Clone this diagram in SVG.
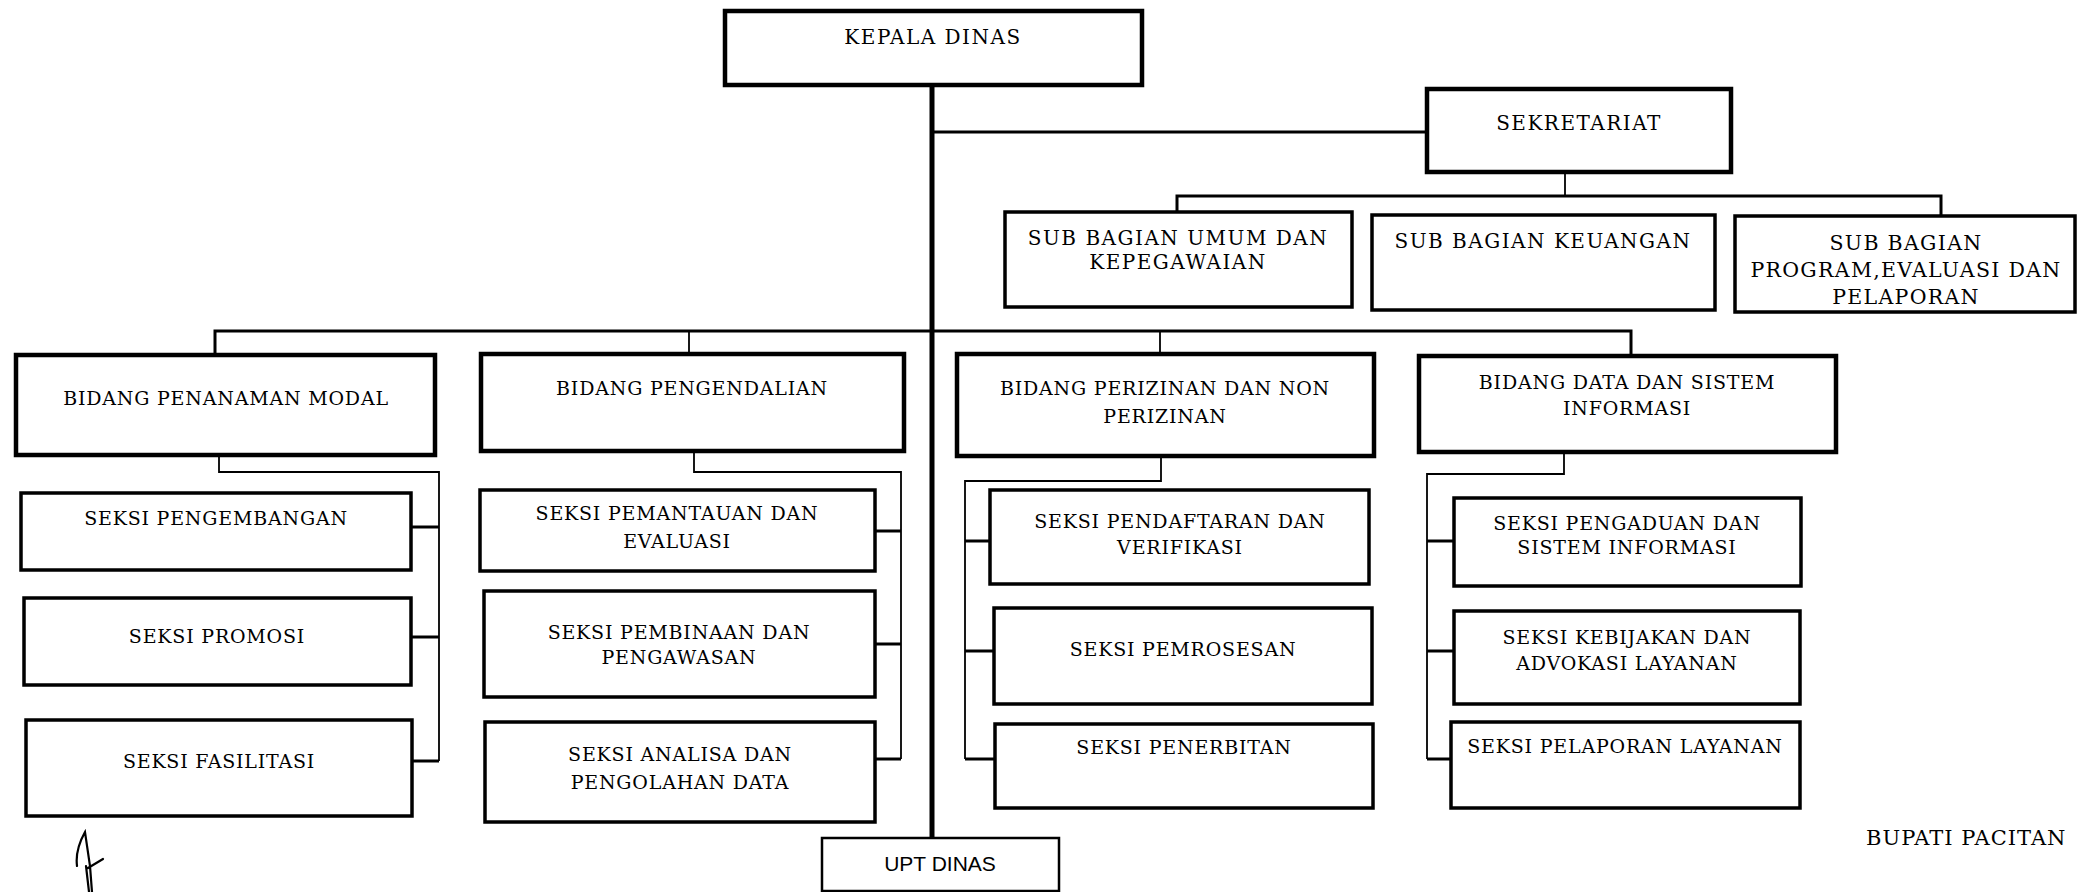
<svg xmlns="http://www.w3.org/2000/svg" width="2078" height="892" viewBox="0 0 2078 892">
<style>
  .t { font-family: "DejaVu Serif", "Liberation Serif", serif; font-size: 19px; letter-spacing: 0.8px; fill: #000; text-anchor: middle; }
  .t2 { font-family: "DejaVu Serif", "Liberation Serif", serif; font-size: 20px; letter-spacing: 1.5px; fill: #000; text-anchor: middle; }
  .t3 { font-family: "DejaVu Serif", "Liberation Serif", serif; font-size: 20.5px; letter-spacing: 1.3px; fill: #000; text-anchor: middle; }
  .s { font-family: "Liberation Sans", Arial, sans-serif; font-size: 21px; fill: #000; text-anchor: middle; }
  .b4 { fill: #fff; stroke: #000; stroke-width: 4.5; }
  .b3 { fill: #fff; stroke: #000; stroke-width: 3.5; }
  .b2 { fill: #fff; stroke: #000; stroke-width: 2.5; }
  .thick { stroke: #000; stroke-width: 5; fill: none; }
  .med { stroke: #000; stroke-width: 3; fill: none; }
  .thin { stroke: #000; stroke-width: 1.8; fill: none; }
</style>
<rect width="2078" height="892" fill="#fff"/>
<g id="connectors">
  <line class="thick" x1="932" y1="85" x2="932" y2="838"/>
  <line class="med" x1="932" y1="132" x2="1427" y2="132"/>
  <line class="thin" x1="1565" y1="172" x2="1565" y2="196"/>
  <polyline class="med" points="1177,214 1177,196 1941,196 1941,216"/>
  <polyline class="med" points="215,355 215,331 1631,331 1631,356"/>
  <line class="thin" x1="689" y1="331" x2="689" y2="354"/>
  <line class="thin" x1="1160" y1="331" x2="1160" y2="354"/>
  <polyline class="thin" points="219,455 219,472 439,472 439,761"/>
  <line class="med" x1="411" y1="527" x2="439" y2="527"/>
  <line class="med" x1="411" y1="637" x2="439" y2="637"/>
  <line class="med" x1="412" y1="761" x2="439" y2="761"/>
  <polyline class="thin" points="694,451 694,472 901,472 901,759"/>
  <line class="med" x1="875" y1="531" x2="901" y2="531"/>
  <line class="med" x1="875" y1="644" x2="901" y2="644"/>
  <line class="med" x1="875" y1="759" x2="901" y2="759"/>
  <polyline class="thin" points="1161,456 1161,481 965,481 965,759"/>
  <line class="med" x1="965" y1="541" x2="990" y2="541"/>
  <line class="med" x1="965" y1="651" x2="994" y2="651"/>
  <line class="med" x1="965" y1="759" x2="995" y2="759"/>
  <polyline class="thin" points="1564,452 1564,474 1427,474 1427,759"/>
  <line class="med" x1="1427" y1="541" x2="1454" y2="541"/>
  <line class="med" x1="1427" y1="651" x2="1454" y2="651"/>
  <line class="med" x1="1427" y1="759" x2="1451" y2="759"/>
</g>
<g id="kepala-dinas"><rect class="b4" x="725" y="11" width="417" height="74"/><text class="t2" x="933" y="44">KEPALA DINAS</text></g>
<g id="sekretariat"><rect class="b4" x="1427" y="89" width="304" height="83"/><text class="t2" x="1579" y="130">SEKRETARIAT</text></g>
<g id="sub-umum"><rect class="b3" x="1005" y="212" width="347" height="95"/><text class="t2" x="1178" y="245">SUB BAGIAN UMUM DAN</text><text class="t2" x="1178" y="269">KEPEGAWAIAN</text></g>
<g id="sub-keuangan"><rect class="b3" x="1372" y="215" width="343" height="95"/><text class="t2" x="1543" y="248">SUB BAGIAN KEUANGAN</text></g>
<g id="sub-program"><rect class="b3" x="1735" y="216" width="340" height="96"/><text class="t3" x="1906" y="250">SUB BAGIAN</text><text class="t3" x="1906" y="277">PROGRAM,EVALUASI DAN</text><text class="t3" x="1906" y="304">PELAPORAN</text></g>
<g id="bidang-penanaman"><rect class="b4" x="16" y="355" width="419" height="100"/><text class="t" x="226" y="405">BIDANG PENANAMAN MODAL</text></g>
<g id="bidang-pengendalian"><rect class="b4" x="481" y="354" width="423" height="97"/><text class="t" x="692" y="395">BIDANG PENGENDALIAN</text></g>
<g id="bidang-perizinan"><rect class="b4" x="957" y="354" width="417" height="102"/><text class="t" x="1165" y="395">BIDANG PERIZINAN DAN NON</text><text class="t" x="1165" y="423">PERIZINAN</text></g>
<g id="bidang-data"><rect class="b4" x="1419" y="356" width="417" height="96"/><text class="t" x="1627" y="389">BIDANG DATA DAN SISTEM</text><text class="t" x="1627" y="415">INFORMASI</text></g>
<g id="seksi-pengembangan"><rect class="b3" x="21" y="493" width="390" height="77"/><text class="t" x="216" y="525">SEKSI PENGEMBANGAN</text></g>
<g id="seksi-promosi"><rect class="b3" x="24" y="598" width="387" height="87"/><text class="t" x="217" y="643">SEKSI PROMOSI</text></g>
<g id="seksi-fasilitasi"><rect class="b3" x="26" y="720" width="386" height="96"/><text class="t" x="219" y="768">SEKSI FASILITASI</text></g>
<g id="seksi-pemantauan"><rect class="b3" x="480" y="490" width="395" height="81"/><text class="t" x="677" y="520">SEKSI PEMANTAUAN DAN</text><text class="t" x="677" y="548">EVALUASI</text></g>
<g id="seksi-pembinaan"><rect class="b3" x="484" y="591" width="391" height="106"/><text class="t" x="679" y="639">SEKSI PEMBINAAN DAN</text><text class="t" x="679" y="664">PENGAWASAN</text></g>
<g id="seksi-analisa"><rect class="b3" x="485" y="722" width="390" height="100"/><text class="t" x="680" y="761">SEKSI ANALISA DAN</text><text class="t" x="680" y="789">PENGOLAHAN DATA</text></g>
<g id="seksi-pendaftaran"><rect class="b3" x="990" y="490" width="379" height="94"/><text class="t" x="1180" y="528">SEKSI PENDAFTARAN DAN</text><text class="t" x="1180" y="554">VERIFIKASI</text></g>
<g id="seksi-pemrosesan"><rect class="b3" x="994" y="608" width="378" height="96"/><text class="t" x="1183" y="656">SEKSI PEMROSESAN</text></g>
<g id="seksi-penerbitan"><rect class="b3" x="995" y="724" width="378" height="84"/><text class="t" x="1184" y="754">SEKSI PENERBITAN</text></g>
<g id="seksi-pengaduan"><rect class="b3" x="1454" y="498" width="347" height="88"/><text class="t" x="1627" y="530">SEKSI PENGADUAN DAN</text><text class="t" x="1627" y="554">SISTEM INFORMASI</text></g>
<g id="seksi-kebijakan"><rect class="b3" x="1454" y="611" width="346" height="93"/><text class="t" x="1627" y="644">SEKSI KEBIJAKAN DAN</text><text class="t" x="1627" y="670">ADVOKASI LAYANAN</text></g>
<g id="seksi-pelaporan"><rect class="b3" x="1451" y="722" width="349" height="86"/><text class="t" x="1625" y="753">SEKSI PELAPORAN LAYANAN</text></g>
<g id="upt-dinas"><rect class="b2" x="822" y="838" width="237" height="53"/><text class="s" x="940" y="871">UPT DINAS</text></g>
<text x="1866" y="845" font-family="DejaVu Serif, Liberation Serif, serif" font-size="21" letter-spacing="1">BUPATI PACITAN</text>
<path d="M77,866 Q75,850 85,832 L90,866 L92,892 M86,866 L89,892 M88,868 L103,859" stroke="#000" stroke-width="2.2" fill="none" stroke-linecap="round"/>
</svg>
